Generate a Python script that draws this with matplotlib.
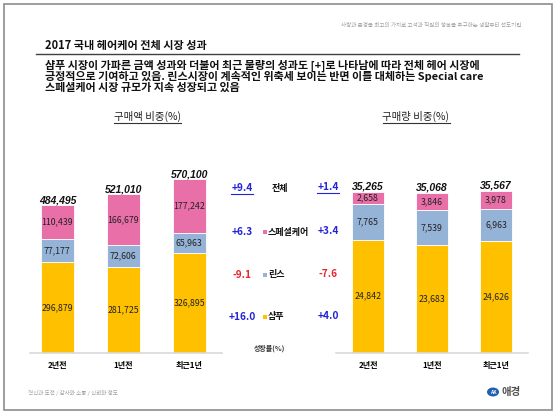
import numpy as np
import matplotlib as mpl
mpl.use('Agg')
import matplotlib.pyplot as plt
from matplotlib.patches import Rectangle, Circle
from matplotlib.lines import Line2D

plt.rcParams['font.family'] = ['Noto Sans CJK KR', 'DejaVu Sans']

# data
years = ['2년전', '1년전', '최근1년']
amount_shampoo = [296879, 281725, 326895]
amount_rinse = [77177, 72606, 65963]
amount_special = [110439, 166679, 177242]
amount_total = [484495, 521010, 570100]
volume_shampoo = [24842, 23683, 24626]
volume_rinse = [7765, 7539, 6963]
volume_special = [2658, 3846, 3978]
volume_total = [35265, 35068, 35567]
growth_labels = ['전체', '스페셜케어', '린스', '샴푸']
growth_amount = [9.4, 6.3, -9.1, 16.0]
growth_volume = [1.4, 3.4, -7.6, 4.0]

C_SHAMPOO = '#FFC000'
C_RINSE = '#95B3D7'
C_SPECIAL = '#E86FA8'
C_BLUE = '#2323D8'
C_RED = '#E8262A'

W, H = 560, 418
fig = plt.figure(figsize=(W / 100, H / 100), dpi=100)


def fx(x):
    return x / W


def fy(y):
    return 1 - y / H


def ftext(x, y, s, **kw):
    return fig.text(fx(x), fy(y), s, **kw)


def underline(t, color='#333333', lw=0.8, pad=1.5):
    fig.canvas.draw()
    bb = t.get_window_extent()
    y = bb.y0 - pad
    fig.add_artist(Line2D([bb.x0 / W, bb.x1 / W], [y / H, y / H],
                          transform=fig.transFigure, color=color, lw=lw))


# frame
fig.add_artist(Rectangle((fx(4), fy(410)), fx(548), 406 / H, transform=fig.transFigure,
                         fill=False, edgecolor='#8C8C8C', lw=1.2))

ftext(521, 25, '사랑과 존경을 최고의 가치로 고객과 직원의 행복을 추구하는 생활뷰티 선도기업',
      fontsize=4, color='#A0A0A0', ha='right', va='center')
ftext(45, 46, '2017 국내 헤어케어 전체 시장 성과', fontsize=8, fontweight='bold',
      ha='left', va='center', color='#111111')
fig.add_artist(Line2D([fx(36), fx(519)], [fy(54), fy(54)], transform=fig.transFigure,
                      color='#404040', lw=1))
body = ['샴푸 시장이 가파른 금액 성과와 더불어 최근 물량의 성과도 [+]로 나타남에 따라 전체 헤어 시장에',
        '긍정적으로 기여하고 있음. 린스시장이 계속적인 위축세 보이는 반면 이를 대체하는 Special care',
        '스페셜케어 시장 규모가 지속 성장되고 있음']
for i, line in enumerate(body):
    ftext(45, 66 + i * 11, line, fontsize=7.95, fontweight='bold', ha='left', va='center',
          color='#111111')

ftext(28, 393, '혁신과 도전 / 감사와 소통 / 신뢰와 정도', fontsize=4, color='#A0A0A0',
      ha='left', va='center')
fig.add_artist(Circle((fx(493), fy(392)), 6 / W, transform=fig.transFigure,
                      facecolor='#1F5FAF', edgecolor='none'))
ftext(493, 392, 'AK', fontsize=3.5, color='white', fontweight='bold', ha='center', va='center')
ftext(501, 392, '애경', fontsize=7.5, color='#505050', fontweight='bold', ha='left', va='center')


def stacked(ax_rect, xlim, ymax, shampoo, rinse, special, total):
    x0, y_top, x1, y_base = ax_rect
    ax = fig.add_axes([fx(x0), fy(y_base), (x1 - x0) / W, (y_base - y_top) / H])
    x = np.arange(len(years))
    bottoms = [np.zeros(3), np.array(shampoo), np.array(shampoo) + np.array(rinse)]
    segs = [shampoo, rinse, special]
    cols = [C_SHAMPOO, C_RINSE, C_SPECIAL]
    for vals, b, c in zip(segs, bottoms, cols):
        ax.bar(x, vals, 0.5, bottom=b, color=c, edgecolor='white', lw=0.6)
        for xi, v, bi in zip(x, vals, b):
            ax.text(xi, bi + v / 2, f'{v:,}', ha='center', va='center', fontsize=6.3,
                    color='#222222')
    for xi, t in zip(x, total):
        ax.text(xi, t, f'{t:,}', ha='center', va='bottom', fontsize=7.5, fontweight='bold',
                fontstyle='italic', family='Liberation Sans', color='#111111')
    ax.set_xlim(*xlim)
    ax.set_ylim(0, ymax)
    ax.set_xticks(x)
    ax.set_xticklabels(years, fontsize=5.8, fontweight='bold')
    ax.tick_params(length=0, pad=6)
    ax.set_yticks([])
    for s in ['top', 'left', 'right']:
        ax.spines[s].set_visible(False)
    ax.spines['bottom'].set_color('#D9D9D9')
    ax.spines['bottom'].set_linewidth(1.2)
    return ax


stacked((30, 130, 222, 353), (-27.5 / 66, 2.5), 223 * 3277,
        amount_shampoo, amount_rinse, amount_special, amount_total)
stacked((336, 130, 528, 353), (-0.5, 2.5), 223 * 219,
        volume_shampoo, volume_rinse, volume_special, volume_total)

t1 = ftext(147, 116, '구매액 비중(%)', fontsize=7.5, ha='center', va='center', color='#222222')
t2 = ftext(416, 116, '구매량 비중(%)', fontsize=7.5, ha='center', va='center', color='#222222')
underline(t1)
underline(t2)

# growth column
rows_y = [188, 232, 275, 317]
sq_cols = [None, C_SPECIAL, C_RINSE, C_SHAMPOO]
for i, (lab, ga, gv, y) in enumerate(zip(growth_labels, growth_amount, growth_volume, rows_y)):
    ta = ftext(242, y, f'{ga:+.1f}', fontsize=7.3, fontweight='bold',
               color=C_BLUE if ga > 0 else C_RED, ha='center', va='center')
    tv = ftext(328, y - 1, f'{gv:+.1f}', fontsize=7.3, fontweight='bold',
               color=C_BLUE if gv > 0 else C_RED, ha='center', va='center')
    if i == 0:
        ftext(280, y, lab, fontsize=6.5, fontweight='bold', ha='center', va='center',
              color='#111111')
        underline(ta, color=C_BLUE, lw=0.8, pad=1)
        underline(tv, color=C_BLUE, lw=0.8, pad=1)
    else:
        fig.add_artist(Rectangle((fx(263), fy(y + 2)), 4 / W, 4 / H, transform=fig.transFigure,
                                 facecolor=sq_cols[i], edgecolor='none'))
        ftext(268, y, lab, fontsize=6.5, fontweight='bold', ha='left', va='center',
              color='#111111')
ftext(270, 348, '성장률(%)', fontsize=5, fontweight='bold', ha='center', va='center',
      color='#333333')

fig.savefig('out.png', dpi=100)
